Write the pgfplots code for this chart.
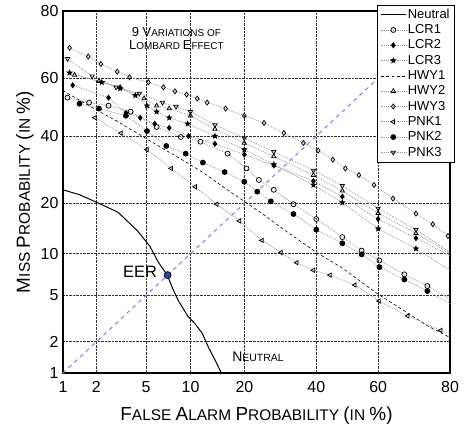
\documentclass[border=0pt]{standalone}
\usepackage{fontspec}
\setmainfont{Liberation Sans}
\usepackage{pgfplots}
\pgfplotsset{compat=1.18}
\usetikzlibrary{plotmarks}

% normal deviate of a percentage (Abramowitz-Stegun 26.2.23)
\newcommand{\probitcalc}[1]{%
  \pgfmathparse{#1/100}\let\pP\pgfmathresult
  \pgfmathparse{\pP<0.5 ? \pP : 1-\pP}\let\pQ\pgfmathresult
  \pgfmathparse{sqrt(-2*ln(\pQ))}\let\pT\pgfmathresult
  \pgfmathparse{\pT-(2.515517+0.802853*\pT+0.010328*\pT*\pT)/(1+1.432788*\pT+0.189269*\pT*\pT+0.001308*\pT*\pT*\pT)}\let\pZ\pgfmathresult
  \pgfmathparse{\pP<0.5 ? -\pZ : \pZ}%
}

\pgfdeclareplotmark{fstar}{%
  \pgfpathmoveto{\pgfpointpolar{90}{\pgfplotmarksize}}%
  \pgfpathlineto{\pgfpointpolar{126}{0.42\pgfplotmarksize}}%
  \pgfpathlineto{\pgfpointpolar{162}{\pgfplotmarksize}}%
  \pgfpathlineto{\pgfpointpolar{198}{0.42\pgfplotmarksize}}%
  \pgfpathlineto{\pgfpointpolar{234}{\pgfplotmarksize}}%
  \pgfpathlineto{\pgfpointpolar{270}{0.42\pgfplotmarksize}}%
  \pgfpathlineto{\pgfpointpolar{306}{\pgfplotmarksize}}%
  \pgfpathlineto{\pgfpointpolar{342}{0.42\pgfplotmarksize}}%
  \pgfpathlineto{\pgfpointpolar{18}{\pgfplotmarksize}}%
  \pgfpathlineto{\pgfpointpolar{54}{0.42\pgfplotmarksize}}%
  \pgfpathclose\pgfusepathqfillstroke}

\definecolor{diagblue}{RGB}{135,135,225}
\definecolor{eerblue}{RGB}{40,70,160}

\newcommand{\Bg}[1]{{\fontsize{19}{19}\selectfont #1}}
\newcommand{\Tb}[1]{{\fontsize{13}{13}\selectfont #1}}
\newcommand{\Nb}[1]{{\fontsize{14}{14}\selectfont #1}}

\pgfplotsset{
  det/.style={densely dotted, line width=0.8pt, color=black!40,
    mark size=2.5pt, mark options={solid, draw=black, fill=black, line width=0.75pt}},
}

\begin{document}
\begin{tikzpicture}
\begin{axis}[
  name=ax,
  width=387bp, height=362bp, scale only axis,
  x coord trafo/.code={\probitcalc{#1}},
  y coord trafo/.code={\probitcalc{#1}},
  xmin=1, xmax=80, ymin=1, ymax=80,
  xtick={1,2,5,10,20,40,60,80},
  xticklabels={1,2,5,10,20,40,60,80},
  ytick={1,2,5,10,20,40,60,80},
  yticklabels={1,2,5,10,20,40,60,80},
  grid=major,
  major grid style={black!80, densely dotted, line width=0.7pt},
  major tick length=0pt,
  axis line style={line width=1.2pt},
  tick label style={font=\fontsize{16}{16}\selectfont},
  xticklabel style={yshift=-5bp},
  yticklabel style={xshift=-1bp},
  xlabel={\fontsize{15.5}{16}\selectfont\Bg{F}ALSE \Bg{A}LARM \Bg{P}ROBABILITY \Bg{(}IN \Bg{\%)}},
  xlabel style={yshift=-7bp},
  ylabel={\fontsize{15.5}{16}\selectfont\Bg{M}ISS \Bg{P}ROBABILITY \Bg{(}IN \Bg{\%)}},
  legend style={at={(0.811,1.017)}, anchor=north west, draw=black,
    font=\fontsize{13}{13}\selectfont, fill=white,
    nodes={inner sep=1.3bp, text height=10bp, text depth=2.7bp}},
  legend cell align=left,
  legend image code/.code={\draw[mark repeat=2,mark phase=2,#1]
    plot coordinates {(0cm,0cm) (0.45cm,0cm) (0.9cm,0cm)};},
]
\addplot[forget plot, diagblue, line width=1.1pt, dash pattern=on 4pt off 4pt]
  coordinates {(1,1) (80,80)};

\addplot[black, line width=1pt] coordinates {
(1,23.5)(1.43,22.2)(2.12,20)(3.05,17.9)(4.31,14)(5.33,11.2)(6.15,8.7)(7.07,7.1)
(7.7,5.6)(8.4,4.5)(9.6,3.4)(10.7,2.9)(11.8,2.4)(12.8,1.8)(14,1.35)(15.2,1)};
\addlegendentry{Neutral}

\addplot[det, mark=o] coordinates {
(1.11,53.3)(1.74,51.6)(2.55,50.5)(3.83,48.4)(5.96,43.1)(8.68,39.7)(11.5,38.1)
(16.4,34.2)(20.5,29.6)(23.5,26.2)(27.4,23.5)(33,19.8)(40,16.4)(48.4,12.8)
(54.7,10.5)(60.4,9)(68,7.2)(74.4,5.9)(80,4.7)};
\addlegendentry{LCR1}

\addplot[det, mark=diamond*] coordinates {
(1.24,57.6)(2.55,53.3)(3.52,48)(4.53,46.3)(5.78,44.2)(7.28,42.8)(9.73,40)
(13.97,37.4)(20,33.9)(27.4,30.5)(39.1,25.9)(48.4,21.7)(60,16.4)(71.3,12.6)(80,9.7)};
\addlegendentry{LCR2}

\addplot[det, mark=fstar] coordinates {
(1.16,61.8)(2.24,58.6)(3.17,56.5)(4.16,54.1)(5.08,50.5)(5.96,48.4)(7.28,46.3)
(9.6,44.2)(13.97,40)(20,35.5)(27.4,30.8)(39.1,24.8)(48.4,20.2)(60,14.4)(71.3,10.8)(80,7.7)};
\addlegendentry{LCR3}

\addplot[black, line width=0.6pt, dash pattern=on 3pt off 2.5pt] coordinates {
(1,55.8)(2,49.1)(3.05,44.9)(5.08,39)(6.96,35.2)(9.73,31.1)(12.3,27.9)(15.8,24)
(20,20.5)(24.8,17.3)(30.2,14.2)(36,11.7)(40,10.2)(48.4,8)(54.7,6.3)(60,5.1)
(68,3.75)(74.4,2.8)(80,2.2)};
\addlegendentry{HWY1}

\addplot[det, mark=triangle] coordinates {
(1.29,61.1)(2.12,59)(3.17,56.9)(4.84,53)(5.96,50.5)(7.28,49.5)(10,47)(13.97,42.4)
(20,37.7)(27.4,33.3)(39.1,27.6)(48.4,23.2)(60,17.7)(71.3,13.5)(80,10)};
\addlegendentry{HWY2}

\addplot[det, mark=diamond] coordinates {
(1.16,69.8)(1.71,67.1)(2.2,64.7)(3,62.2)(3.76,60.3)(5.2,58.6)(6.65,56.9)(7.95,55.5)
(9.45,54.4)(11,53)(12.6,51.6)(16,49.5)(20,47)(24.8,44.5)(30.2,41)(36,37.7)
(40.6,35.2)(45.3,32.3)(49.4,29.6)(53.8,27.6)(58.7,24.8)(64.6,21.2)(71.3,17.6)
(75.8,15.3)(79.5,13)};
\addlegendentry{HWY3}

\addplot[det, mark=triangle,
  mark options={solid, draw=black, fill=black, line width=0.75pt, rotate=90}] coordinates {
(1.96,46.3)(3.22,41)(5.08,35.5)(7.5,29.6)(10.7,24.3)(14.3,19.8)(18.9,16)(24.3,12.2)
(29.4,10.2)(34,8.7)(39.1,7.7)(44.4,7.1)(52.5,6)(60.3,4.5)(69,3.4)(77.8,2.55)(80,2.4)};
\addlegendentry{PNK1}

\addplot[det, mark=*] coordinates {
(1.43,51.2)(2.12,49.5)(3.52,47)(5.08,41.7)(6.96,36.7)(9.33,34.2)(11.9,31.4)
(15.8,28.5)(20,25.7)(23.1,23)(26.6,20.5)(33,17.5)(40,14.2)(48.4,11.7)(54.7,9.9)
(60.4,8.1)(68,6.6)(74.4,5.4)(80,4.3)};
\addlegendentry{PNK2}

\addplot[det, mark=triangle,
  mark options={solid, draw=black, fill=black, line width=0.75pt, rotate=180}] coordinates {
(1.11,66.4)(1.85,60.7)(2.94,56.9)(4.46,54.8)(6.55,51.6)(8.08,50.2)(10,48.4)
(13.97,43.8)(20,39.3)(27.4,34.8)(39.1,29)(48.4,24.6)(60,18.8)(71.3,14.2)(80,10.2)};
\addlegendentry{PNK3}

\addplot[forget plot, only marks, mark=*, mark size=3.6pt,
  mark options={draw=black, fill=eerblue, line width=0.6pt}]
  coordinates {(7.1,7.1)};

\node[align=center, font=\fontsize{10}{13}\selectfont] at (rel axis cs:0.293,0.925)
  {\Tb{9 V}ARIATIONS OF\\\Tb{L}OMBARD \Tb{E}FFECT};
\node[font=\fontsize{16.5}{16.5}\selectfont] at (rel axis cs:0.199,0.279) {EER};
\node[font=\fontsize{10.5}{10.5}\selectfont] at (rel axis cs:0.504,0.044) {\Nb{N}EUTRAL};
\end{axis}
\pgfresetboundingbox
\path[use as bounding box] ([shift={(-63bp,-53bp)}]ax.south west)
  rectangle ([shift={(14bp,11bp)}]ax.north east);
\end{tikzpicture}
\end{document}
